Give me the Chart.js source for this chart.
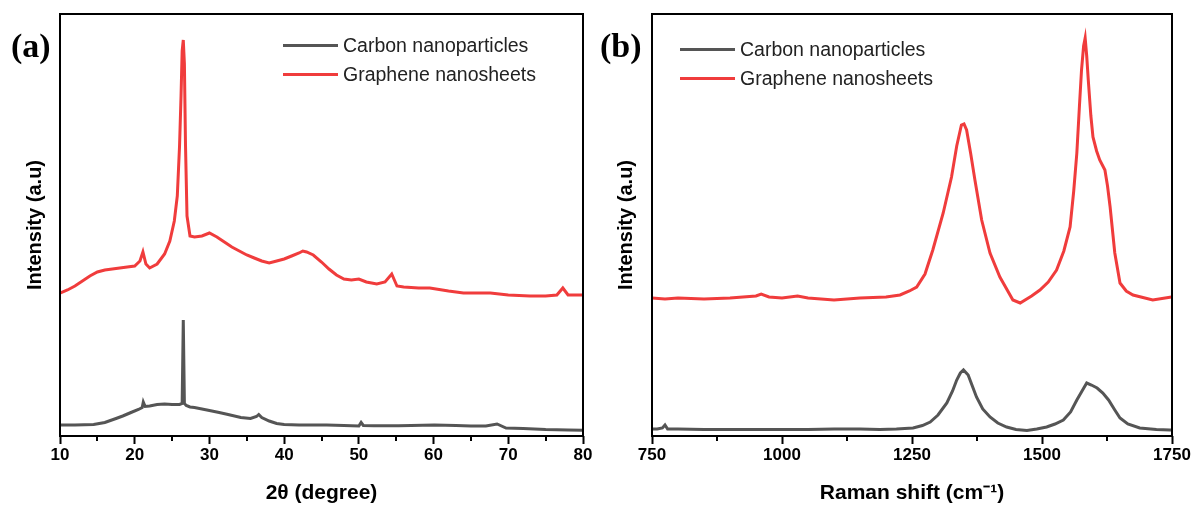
<!DOCTYPE html>
<html><head><meta charset="utf-8">
<script src="https://cdn.jsdelivr.net/npm/chart.js@4.4.1/dist/chart.umd.min.js"></script>
<style>
html,body{margin:0;padding:0;background:#fff;}
#wrap{position:relative;width:1193px;height:506px;overflow:hidden;font-family:"Liberation Sans",Arial,sans-serif;}
canvas{position:absolute;top:0;}
#ca{left:0;}
#cb{left:596px;}
.plabel{position:absolute;font-family:"Liberation Serif","Times New Roman",serif;font-weight:bold;font-size:34px;line-height:34px;color:#000;}
.lline{position:absolute;width:55px;height:3px;}
.ltext{position:absolute;font-size:19.5px;line-height:22px;color:#222;white-space:nowrap;}
</style></head>
<body>
<div id="wrap">
<canvas id="ca" width="596" height="506"></canvas>
<canvas id="cb" width="597" height="506"></canvas>
<div class="plabel" style="left:11px;top:29px;">(a)</div>
<div class="plabel" style="left:600px;top:29px;">(b)</div>
<div id="legA"></div>
<div id="legB"></div>
</div>
<script>
// ---------- data ----------
const seriesNames = ['Carbon nanoparticles', 'Graphene nanosheets'];

const xrdTicks = [10, 20, 30, 40, 50, 60, 70, 80];
const xrdMinorTicks = [15, 25, 35, 45, 55, 65, 75];
const ramanTicks = [750, 1000, 1250, 1500, 1750];
const ramanMinorTicks = [875, 1125, 1375, 1625];

const xrdCarbonX = [10, 12, 14.5, 16, 17.5, 18.4, 19.5, 20.5, 21, 21.15, 21.4, 22, 23, 24, 25, 26, 26.35, 26.5, 26.65, 26.9, 27.4, 28, 29, 30, 31.3, 32.5, 34.2, 35.5, 36.3, 36.6, 37, 38, 39, 40, 42, 45.7, 48, 50, 50.3, 50.6, 52, 55.3, 57, 60.1, 63, 65, 67, 68.5, 69.7, 72, 75, 78, 80];
const xrdCarbonY = [11, 11, 11.5, 13.5, 17.5, 20, 23.5, 26.5, 28.5, 34, 29.5, 30, 31.5, 32, 31.5, 31.5, 32.5, 116, 32.5, 30.5, 29, 28.5, 27, 25.5, 23.5, 21.5, 18.5, 17.5, 19.5, 21.5, 18.5, 15, 12.5, 11.5, 11, 11, 10.5, 10, 13.5, 10.5, 10.3, 10.3, 10.5, 11, 10.5, 10, 10, 12, 8, 7.5, 6.5, 6, 5.7];

const xrdGrapheneX = [10, 11, 12, 13, 14, 15, 16, 17, 18, 19, 20, 20.7, 21.1, 21.5, 22, 23, 24, 24.7, 25.3, 25.7, 26, 26.2, 26.35, 26.5, 26.65, 26.8, 27, 27.4, 28, 29, 30, 31, 32, 33, 34, 35, 36, 37, 38, 39, 40, 41, 42, 42.5, 43, 43.9, 45, 46, 47, 48, 49, 50, 51, 52.4, 53.5, 54.4, 55.1, 56, 58, 59.5, 62, 64, 66, 67.6, 70, 72.9, 75, 76.5, 77.3, 78, 79, 80];
const xrdGrapheneY = [143, 146, 150, 155, 160, 164, 166, 167, 168, 169, 170, 175, 184, 172, 168, 172, 182, 195, 215, 240, 290, 340, 385, 396, 372, 290, 220, 200, 199, 200, 203, 199, 194, 189, 185, 181, 178, 175, 173, 175, 177, 180, 183, 185, 184, 181, 174, 167, 161, 157, 156, 157, 154, 152, 154, 162, 150, 149, 148, 148, 145, 143, 143, 143, 141, 140, 140, 141, 148, 141, 141, 141];

const ramanCarbonX = [750, 760, 770, 775, 780, 800, 850, 900, 950, 1000, 1050, 1100, 1150, 1188, 1220, 1252, 1270, 1285, 1300, 1317, 1328, 1336, 1343, 1349, 1358, 1366, 1374, 1386, 1400, 1415, 1432, 1450, 1471, 1490, 1509, 1525, 1541, 1555, 1567, 1577, 1586, 1595, 1606, 1617, 1628, 1640, 1650, 1665, 1688, 1720, 1746, 1750];
const ramanCarbonY = [7, 7, 8, 11, 7, 7, 6.5, 6.5, 6.5, 6.5, 6.5, 7, 7, 6.5, 7, 8, 10.5, 14, 21, 33, 45, 56, 63, 66, 61, 50, 39, 27, 19, 13, 9, 6.5, 5.5, 7, 9, 12, 16, 24, 36, 45, 53, 51, 48, 43, 36, 26, 18, 12, 8, 6.5, 6, 6];

const ramanGrapheneX = [750, 775, 800, 850, 900, 950, 960, 975, 1000, 1030, 1050, 1100, 1150, 1200, 1227, 1245, 1259, 1275, 1290, 1310, 1326, 1336, 1345, 1350, 1355, 1363, 1371, 1384, 1400, 1419, 1444, 1458, 1480, 1496, 1512, 1528, 1542, 1554, 1561, 1567, 1572, 1576, 1580, 1583, 1586, 1589, 1594, 1598, 1605, 1611, 1617, 1621, 1626, 1631, 1640, 1650, 1662, 1675, 1713, 1749];
const ramanGrapheneY = [138, 137, 138, 137, 138, 140, 142, 139, 138, 140, 138, 136, 138, 139, 141, 145, 149, 162, 186, 223, 259, 290, 311, 312, 306, 282, 256, 216, 183, 159, 136, 133, 140, 146, 154, 166, 185, 209, 245, 283, 330, 366, 390, 398, 380, 356, 320, 299, 285, 276, 270, 266, 250, 229, 183, 153, 145, 141, 136, 139];

// ---------- styling ----------
const GRAY = '#555555';
const RED = '#f03c3c';
const FONT = '"Liberation Sans", Arial, sans-serif';

function pts(xs, ys) { return xs.map((x, i) => ({ x: x, y: ys[i] })); }

const framePlugin = {
  id: 'frame',
  afterDatasetsDraw(chart, args, opts) {
    const { ctx, chartArea } = chart;
    const { left, top, right, bottom } = chartArea;
    const xs = chart.scales.x;
    ctx.save();
    ctx.strokeStyle = '#000';
    ctx.lineWidth = 2;
    ctx.strokeRect(left, top, right - left, bottom - top);
    ctx.beginPath();
    (opts.minor || []).forEach(v => {
      const px = Math.round(xs.getPixelForValue(v));
      ctx.moveTo(px, bottom);
      ctx.lineTo(px, bottom + 5);
    });
    ctx.stroke();
    ctx.restore();
  }
};

function makeChart(id, cfg) {
  return new Chart(document.getElementById(id), {
    type: 'line',
    data: {
      datasets: [
        { label: seriesNames[0], data: pts(cfg.cx, cfg.cy), borderColor: GRAY, borderWidth: 3, pointRadius: 0, tension: 0, fill: false },
        { label: seriesNames[1], data: pts(cfg.gx, cfg.gy), borderColor: RED, borderWidth: 3, pointRadius: 0, tension: 0, fill: false }
      ]
    },
    options: {
      responsive: false,
      animation: false,
      devicePixelRatio: 1,
      layout: { padding: { left: 0, right: cfg.padRight, top: 14, bottom: 0 } },
      plugins: { legend: { display: false }, tooltip: { enabled: false }, frame: { minor: cfg.minor } },
      scales: {
        x: {
          type: 'linear', min: cfg.ticks[0], max: cfg.ticks[cfg.ticks.length - 1],
          afterBuildTicks: s => { s.ticks = cfg.ticks.map(v => ({ value: v })); },
          afterFit: s => { s.height = 70; },
          ticks: { autoSkip: false, maxRotation: 0, padding: 1, color: '#000', font: { family: FONT, size: 17, weight: 'bold' }, callback: v => String(v) },
          grid: { drawOnChartArea: false, drawTicks: true, tickLength: 8, tickWidth: 2, tickColor: '#000' },
          border: { display: false },
          title: { display: true, text: cfg.xTitle, color: '#000', font: { family: FONT, size: 21, weight: 'bold' }, padding: { top: 0, bottom: 0 } }
        },
        y: {
          type: 'linear', min: 0, max: 422,
          ticks: { display: false },
          grid: { display: false },
          border: { display: false },
          afterFit: s => { s.width = cfg.yWidth; },
          title: { display: true, text: 'Intensity (a.u)', color: '#000', font: { family: FONT, size: 20, weight: 'bold' }, padding: { top: cfg.yTitlePad, bottom: 0 } }
        }
      }
    },
    plugins: [framePlugin]
  });
}

makeChart('ca', { cx: xrdCarbonX, cy: xrdCarbonY, gx: xrdGrapheneX, gy: xrdGrapheneY, ticks: xrdTicks, minor: xrdMinorTicks, xTitle: '2θ (degree)', padRight: 13, yWidth: 60, yTitlePad: 23 });
makeChart('cb', { cx: ramanCarbonX, cy: ramanCarbonY, gx: ramanGrapheneX, gy: ramanGrapheneY, ticks: ramanTicks, minor: ramanMinorTicks, xTitle: 'Raman shift (cm⁻¹)', padRight: 21, yWidth: 56, yTitlePad: 18 });

// ---------- legends (HTML overlay) ----------
function legend(el, x, y0, gap) {
  const colors = [GRAY, RED];
  let html = '';
  seriesNames.forEach((n, i) => {
    const cy = y0 + i * gap;
    html += '<div class="lline" style="left:' + x + 'px;top:' + (cy - 1.5) + 'px;background:' + colors[i] + '"></div>';
    html += '<div class="ltext" style="left:' + (x + 60) + 'px;top:' + (cy - 11) + 'px;">' + n + '</div>';
  });
  document.getElementById(el).innerHTML = html;
}
legend('legA', 283, 45, 29);
legend('legB', 680, 49, 29);
</script>
</body></html>
